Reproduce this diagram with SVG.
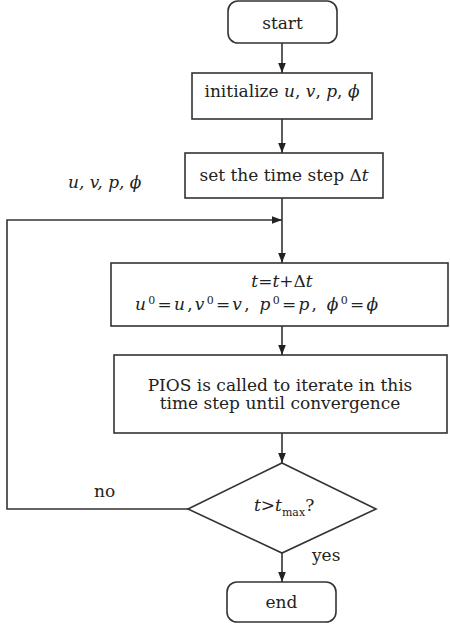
<svg xmlns="http://www.w3.org/2000/svg" width="450" height="627" viewBox="0 0 450 627">
<defs>
<marker id="ah" markerUnits="userSpaceOnUse" markerWidth="10" markerHeight="10" viewBox="0 0 10 10" refX="10" refY="5" orient="auto">
<path d="M0,1.2 L10,5 L0,8.8 Z" fill="#222"/>
</marker>
<style>
.box{fill:#fff;stroke:#333;stroke-width:1.6}
.ln{fill:none;stroke:#333;stroke-width:1.6}
text{font-family:"DejaVu Serif","Liberation Serif",serif;font-size:17px;fill:#222}
.it{font-style:italic}
.sm{font-size:11px}
</style>
</defs>
<rect width="450" height="627" fill="#fff"/>
<g id="connectors">
<line class="ln" x1="282" y1="43" x2="282" y2="73" marker-end="url(#ah)"/>
<line class="ln" x1="282" y1="119" x2="282" y2="153" marker-end="url(#ah)"/>
<line class="ln" x1="282" y1="198" x2="282" y2="263" marker-end="url(#ah)"/>
<polyline class="ln" points="188,509 7,509 7,220 282,220" marker-end="url(#ah)"/>
<line class="ln" x1="282" y1="326" x2="282" y2="355" marker-end="url(#ah)"/>
<line class="ln" x1="282" y1="433" x2="282" y2="463" marker-end="url(#ah)"/>
<line class="ln" x1="282" y1="553" x2="282" y2="582" marker-end="url(#ah)"/>
<text x="94" y="497">no</text>
<text x="312" y="561">yes</text>
</g>
<g id="start">
<rect class="box" x="228" y="1" width="109" height="42" rx="10"/>
<text x="282.5" y="29" text-anchor="middle">start</text>
</g>
<g id="init">
<rect class="box" x="192" y="73" width="180" height="46"/>
<text x="282" y="97" text-anchor="middle">initialize <tspan class="it">u</tspan>, <tspan class="it">v</tspan>, <tspan class="it">p</tspan>, <tspan class="it">ϕ</tspan></text>
</g>
<g id="vars">
<text x="68" y="188" class="it">u, v, p, ϕ</text>
</g>
<g id="timestep">
<rect class="box" x="185" y="153" width="198" height="45"/>
<text x="284" y="181" text-anchor="middle">set the time step Δ<tspan class="it">t</tspan></text>
</g>
<g id="update">
<rect class="box" x="111" y="263" width="337" height="63"/>
<text x="282" y="287" text-anchor="middle"><tspan class="it">t</tspan>=<tspan class="it">t</tspan>+Δ<tspan class="it">t</tspan></text>
<text x="135" y="310" textLength="243" lengthAdjust="spacing"><tspan class="it">u</tspan><tspan class="sm" dy="-6">0</tspan><tspan dy="6">=</tspan><tspan class="it">u</tspan>,<tspan class="it">v</tspan><tspan class="sm" dy="-6">0</tspan><tspan dy="6">=</tspan><tspan class="it">v</tspan>, <tspan class="it">p</tspan><tspan class="sm" dy="-6">0</tspan><tspan dy="6">=</tspan><tspan class="it">p</tspan>, <tspan class="it">ϕ</tspan><tspan class="sm" dy="-6">0</tspan><tspan dy="6">=</tspan><tspan class="it">ϕ</tspan></text>
</g>
<g id="pios">
<rect class="box" x="114" y="355" width="333" height="78"/>
<text x="280" y="391" text-anchor="middle">PIOS is called to iterate in this</text>
<text x="280" y="409" text-anchor="middle">time step until convergence</text>
</g>
<g id="check">
<polygon class="box" points="282,463 376,509 282,553 188,509"/>
<text x="254" y="511"><tspan class="it">t</tspan>&gt;<tspan class="it">t</tspan><tspan class="sm" dy="5">max</tspan><tspan dy="-5">?</tspan></text>
</g>
<g id="end">
<rect class="box" x="227" y="582" width="109" height="40" rx="10"/>
<text x="281.5" y="608" text-anchor="middle">end</text>
</g>
</svg>
